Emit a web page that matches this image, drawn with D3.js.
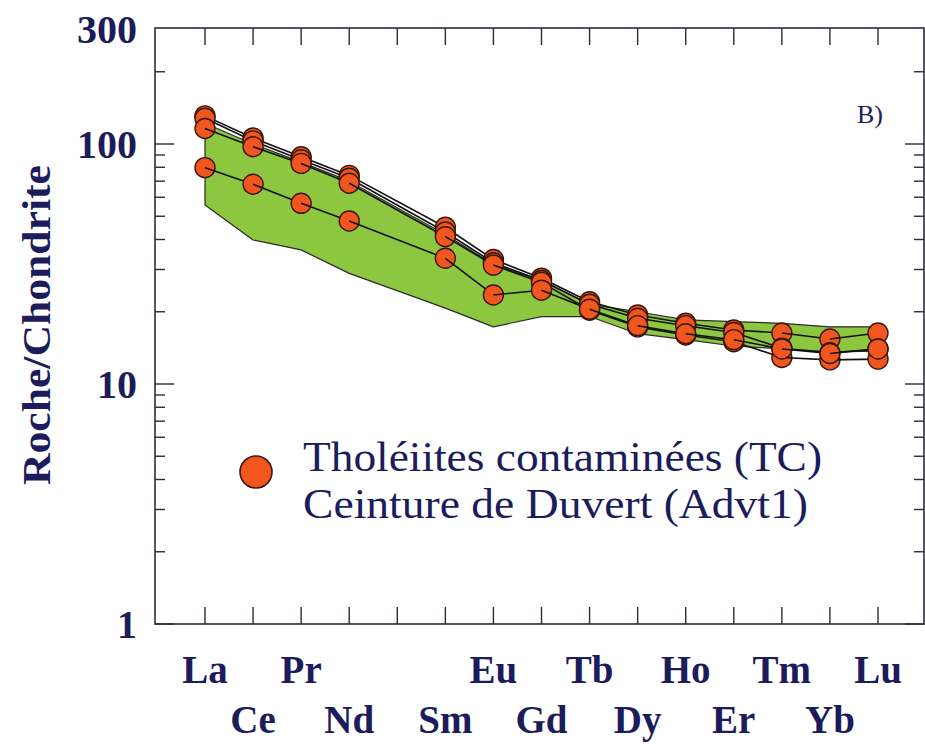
<!DOCTYPE html>
<html>
<head>
<meta charset="utf-8">
<script src="https://cdn.jsdelivr.net/npm/d3@7"></script>
<style>
  html, body { margin: 0; padding: 0; background: #ffffff; }
  svg { display: block; }
</style>
</head>
<body>
<svg id="chart" width="925" height="744"></svg>
<script>
// Rare-earth elements along the x axis (Pm has a slot but no data or label)
const elements = ["La","Ce","Pr","Nd","Pm","Sm","Eu","Gd","Tb","Dy","Ho","Er","Tm","Yb","Lu"];
// Elements actually analysed
const measured = ["La","Ce","Pr","Nd","Sm","Eu","Gd","Tb","Dy","Ho","Er","Tm","Yb","Lu"];

// Chondrite-normalised REE of the contaminated tholeiites (Duvert belt, Advt1)
const sample1 = [131, 106, 88.5, 74, 45, 33, 27.6, 22.0, 19.4, 17.9, 16.8, 16.3, 15.4, 16.3];
const sample2 = [128, 103, 86, 72, 43, 32, 27.0, 21.5, 18.8, 17.5, 16.4, 14.1, 13.5, 14.0];
const sample3 = [116, 97.4, 83, 68.6, 41.1, 31.3, 26.5, 20.3, 17.3, 16.0, 15.0, 12.9, 12.6, 12.7];
const sample4 = [79.7, 68, 56.6, 47.8, 33.4, 23.5, 24.6, 20.5, 17.5, 16.2, 15.3, 14.0, 13.4, 14.0];
const samples = [sample1, sample2, sample3, sample4];

// Reference field (upper and lower envelope)
const fieldUpper = [122, 100, 84, 70, 42, 31.5, 27, 21.5, 20.0, 18.5, 18.2, 17.9, 17.3, 17.3];
const fieldLower = [55.7, 39.8, 36.2, 28.9, 20.7, 17.3, 19.1, 19.1, 16.2, 15.3, 14.4, 14.0, 13.6, 13.7];

// Y axis ticks
const yMajorTicks = [1, 10, 100, 300];
const yMinorTicks = [2, 3, 4, 5, 6, 7, 8, 9, 20, 30, 40, 50, 60, 70, 80, 90, 200];

const yLabel = "Roche/Chondrite";
const legendLines = ["Tholéiites contaminées (TC)", "Ceinture de Duvert (Advt1)"];
const legendWidths = [519, 505];
const panelTag = "B)";

const navy = "#1c1c5c";
const frameColor = "#2e2a3a";
const serif = "'Liberation Serif', 'Times New Roman', serif";

const svg = d3.select("#chart");

const frame = { left: 155, right: 924, top: 28, bottom: 624 };

const x = d3.scaleLinear()
  .domain([0, elements.length - 1])
  .range([205, 878]);
const y = d3.scaleLog()
  .domain([1, 300])
  .range([frame.bottom, frame.bottom - 240 * Math.log10(300)]);

const xOf = el => x(elements.indexOf(el));

// Field polygon
const fieldPts = measured.map((el, i) => [xOf(el), y(fieldUpper[i])])
  .concat(measured.map((el, i) => [xOf(el), y(fieldLower[i])]).reverse());
svg.append("path")
  .attr("d", d3.line()(fieldPts) + "Z")
  .attr("fill", "#8dc63f")
  .attr("stroke", "#2b2b2b")
  .attr("stroke-width", 1.2)
  .attr("stroke-linejoin", "round");

// Samples: each circle, then the segment leaving it, so the next circle covers the joint
const gS = svg.append("g");
samples.forEach(vals => {
  vals.forEach((v, i) => {
    const cx = xOf(measured[i]), cy = y(v);
    gS.append("circle")
      .attr("cx", cx).attr("cy", cy).attr("r", 10)
      .attr("fill", "#f2561f")
      .attr("stroke", "#3a1608")
      .attr("stroke-width", 1.4);
    if (i < vals.length - 1) {
      gS.append("line")
        .attr("x1", cx).attr("y1", cy)
        .attr("x2", xOf(measured[i + 1])).attr("y2", y(vals[i + 1]))
        .attr("stroke", "#111")
        .attr("stroke-width", 1.6);
    }
  });
});

// Frame
svg.append("rect")
  .attr("x", frame.left).attr("y", frame.top)
  .attr("width", frame.right - frame.left)
  .attr("height", frame.bottom - frame.top)
  .attr("fill", "none")
  .attr("stroke", frameColor)
  .attr("stroke-width", 1.6);

// Inward ticks on all four sides
const ticks = svg.append("g").attr("stroke", frameColor).attr("stroke-width", 1.4);
elements.forEach((el, i) => {
  ticks.append("line").attr("x1", x(i)).attr("x2", x(i)).attr("y1", frame.top).attr("y2", frame.top + 17);
  ticks.append("line").attr("x1", x(i)).attr("x2", x(i)).attr("y1", frame.bottom).attr("y2", frame.bottom - 17);
});
yMajorTicks.filter(t => t < 300).forEach(t => {
  ticks.append("line").attr("x1", frame.left).attr("x2", frame.left + 19).attr("y1", y(t)).attr("y2", y(t));
  ticks.append("line").attr("x1", frame.right).attr("x2", frame.right - 19).attr("y1", y(t)).attr("y2", y(t));
});
yMinorTicks.forEach(t => {
  ticks.append("line").attr("x1", frame.left).attr("x2", frame.left + 10).attr("y1", y(t)).attr("y2", y(t));
  ticks.append("line").attr("x1", frame.right).attr("x2", frame.right - 10).attr("y1", y(t)).attr("y2", y(t));
});

// Y tick labels
svg.append("g").selectAll("text").data(yMajorTicks).join("text")
  .attr("x", 137)
  .attr("y", d => y(d))
  .attr("dy", "0.34em")
  .attr("text-anchor", "end")
  .attr("font-family", serif)
  .attr("font-weight", "bold")
  .attr("font-size", 40)
  .attr("fill", navy)
  .text(d => d);

// X labels in two staggered rows
svg.append("g").selectAll("text").data(elements.map((e, i) => ({ e, i })).filter(d => d.e !== "Pm")).join("text")
  .attr("x", d => x(d.i))
  .attr("y", d => d.i % 2 === 0 ? 683 : 733)
  .attr("text-anchor", "middle")
  .attr("font-family", serif)
  .attr("font-weight", "bold")
  .attr("font-size", 39)
  .attr("fill", navy)
  .text(d => d.e);

// Y axis title
svg.append("text")
  .attr("transform", "translate(50,325) rotate(-90)")
  .attr("text-anchor", "middle")
  .attr("font-family", serif)
  .attr("font-weight", "bold")
  .attr("font-size", 40)
  .attr("textLength", 320)
  .attr("lengthAdjust", "spacingAndGlyphs")
  .attr("fill", navy)
  .text(yLabel);

// Panel tag
svg.append("text")
  .attr("x", 857).attr("y", 123)
  .attr("font-family", serif)
  .attr("font-size", 26)
  .attr("fill", navy)
  .text(panelTag);

// Legend
svg.append("circle")
  .attr("cx", 256).attr("cy", 472).attr("r", 16)
  .attr("fill", "#f2561f")
  .attr("stroke", "#3a1608")
  .attr("stroke-width", 1.6);
svg.append("g").selectAll("text").data(legendLines).join("text")
  .attr("x", 303)
  .attr("y", (d, i) => 471 + i * 47)
  .attr("font-family", serif)
  .attr("font-size", 42)
  .attr("textLength", (d, i) => legendWidths[i])
  .attr("lengthAdjust", "spacingAndGlyphs")
  .attr("fill", navy)
  .text(d => d);
</script>
</body>
</html>
